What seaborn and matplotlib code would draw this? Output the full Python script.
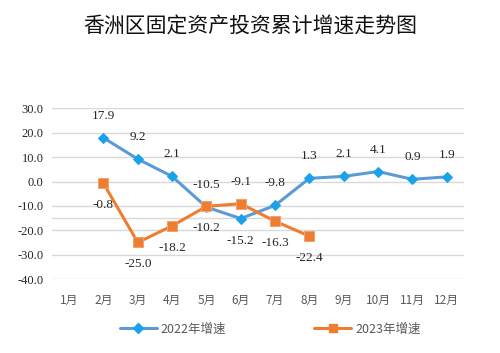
import matplotlib
matplotlib.use("Agg")
import matplotlib.pyplot as plt
import seaborn as sns
import numpy as np
import pandas as pd
from matplotlib.lines import Line2D

months = ["1月", "2月", "3月", "4月", "5月", "6月", "7月", "8月", "9月", "10月", "11月", "12月"]
growth_2022 = [np.nan, 17.9, 9.2, 2.1, -10.5, -15.2, -9.8, 1.3, 2.1, 4.1, 0.9, 1.9]
growth_2023 = [np.nan, -0.8, -25.0, -18.2, -10.2, -9.1, -16.3, -22.4, np.nan, np.nan, np.nan, np.nan]
label_2022 = "2022年增速"
label_2023 = "2023年增速"
title = "香洲区固定资产投资累计增速走势图"
yticks = [30, 20, 10, 0, -10, -20, -30, -40]

sns.set_theme(style="white")
plt.rcParams['font.family'] = ['Noto Sans CJK SC', 'DejaVu Sans']

fig = plt.figure(figsize=(5.0, 3.53), dpi=100)
ax = fig.add_axes([0.104, 0.2096, 0.8236, 0.4834])

df = pd.DataFrame({"idx": np.arange(len(months)), "y22": growth_2022, "y23": growth_2023})

blue_line = "#5B9BD5"
blue_marker = "#1AA3E8"
orange = "#ED7D31"

# gridlines
for t in yticks + [-15]:
    ax.axhline(t, color="#D9D9D9", lw=1.0, zorder=0)

sns.lineplot(data=df.dropna(subset=["y22"]), x="idx", y="y22", ax=ax, color=blue_line, lw=2.2,
             marker="D", markersize=5.5, markerfacecolor=blue_marker, markeredgecolor=blue_marker,
             zorder=3, legend=False)
sns.lineplot(data=df.dropna(subset=["y23"]), x="idx", y="y23", ax=ax, color=orange, lw=2.2,
             marker="s", markersize=7, markerfacecolor=orange, markeredgecolor="#F4A070",
             zorder=4, legend=False)

serif = ['Liberation Serif', 'DejaVu Serif']
# data labels
below_2022 = {5}
above_2023 = {5}
for i, v in enumerate(growth_2022):
    if np.isnan(v):
        continue
    off = -22 if i in below_2022 else 22
    ax.annotate(f"{v:.1f}", (i, v), xytext=(0, off), textcoords="offset pixels",
                ha="center", va="center", fontsize=9.5, family=serif, color="#262626")
for i, v in enumerate(growth_2023):
    if np.isnan(v):
        continue
    off = 22 if i in above_2023 else -22
    ax.annotate(f"{v:.1f}", (i, v), xytext=(0, off), textcoords="offset pixels",
                ha="center", va="center", fontsize=9.5, family=serif, color="#262626")

ax.set_xlim(-0.5, len(months) - 0.5)
ax.set_ylim(-40, 30)
ax.set_yticks(yticks)
ax.set_yticklabels([f"{t:.1f}" for t in yticks], family=serif, fontsize=9, color="#262626")
ax.set_xticks(np.arange(len(months)))
ax.set_xticklabels(months, fontsize=8.5, color="#595959")
ax.tick_params(axis="x", length=0, pad=11)
ax.tick_params(axis="y", length=0, pad=6)
ax.set_xlabel("")
ax.set_ylabel("")
for s in ax.spines.values():
    s.set_visible(False)

fig.text(0.5, 0.925, title, ha="center", va="center", fontsize=15, color="#111111")

handles = [
    Line2D([], [], color=blue_line, lw=2.2, marker="D", markersize=5, markerfacecolor=blue_marker,
           markeredgecolor=blue_marker),
    Line2D([], [], color=orange, lw=2.2, marker="s", markersize=6, markerfacecolor=orange,
           markeredgecolor=orange),
]
leg = fig.legend(handles, [label_2022, label_2023], loc="center", bbox_to_anchor=(0.54, 0.068),
                 ncol=2, frameon=False, fontsize=9, handlelength=3.0, columnspacing=7.0,
                 handletextpad=0.3)
for t in leg.get_texts():
    t.set_color("#595959")

fig.savefig("out.png", dpi=100)
